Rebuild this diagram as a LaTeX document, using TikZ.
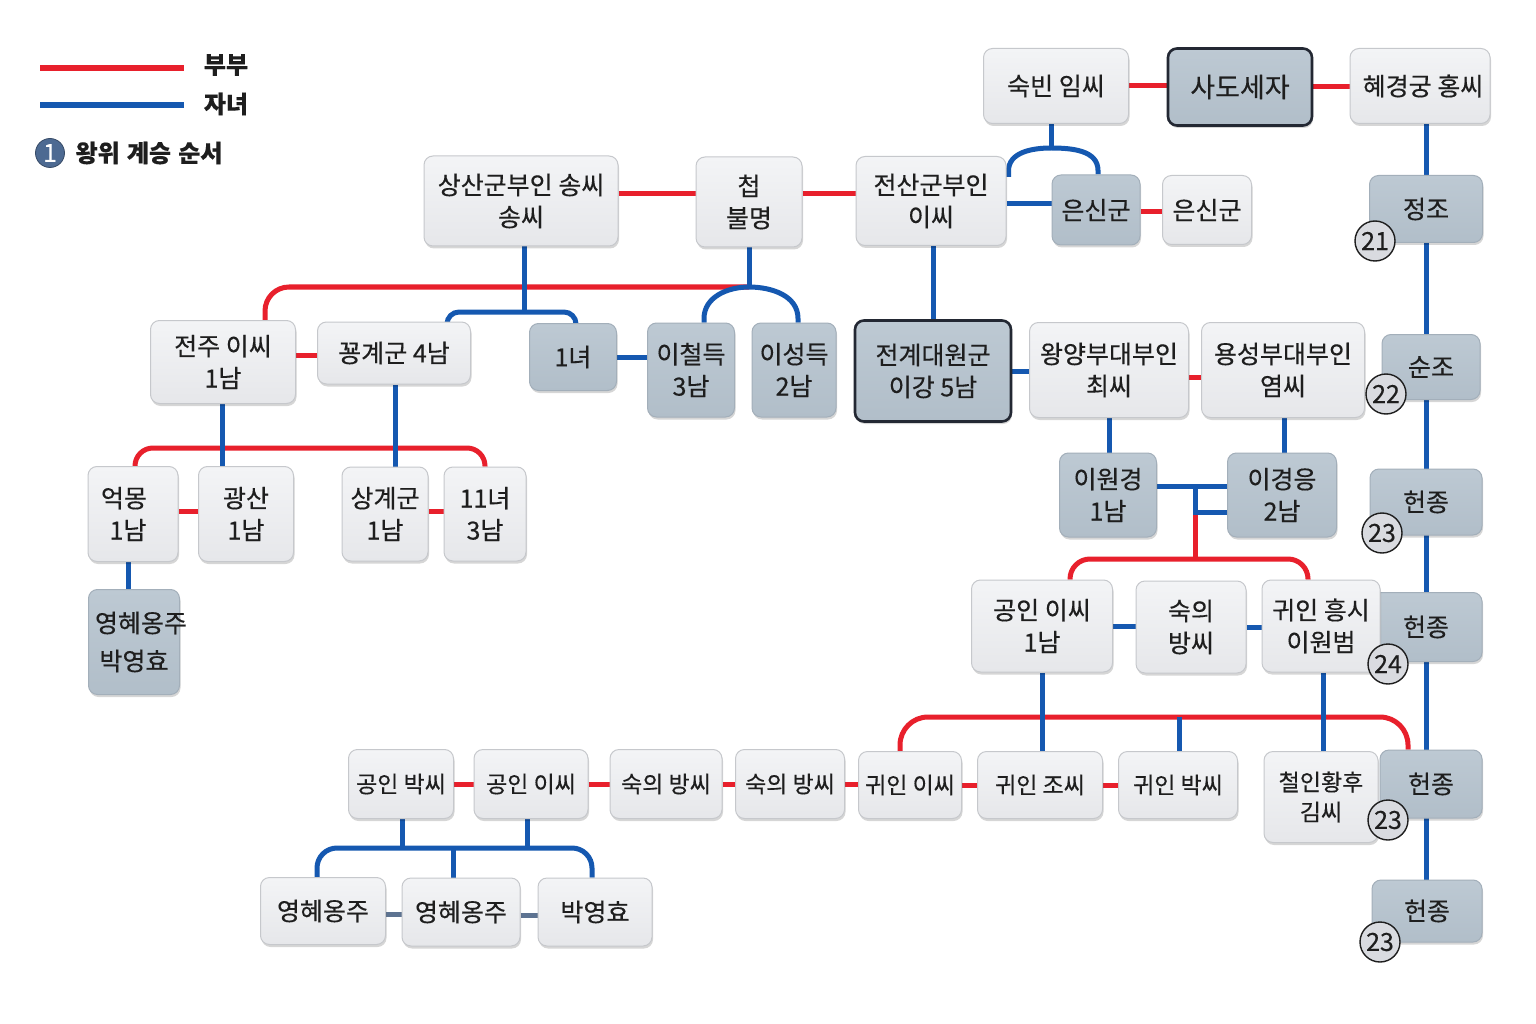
\documentclass[tikz,border=0pt]{standalone}
\usepackage{fontspec}
\setmainfont{Noto Sans CJK KR}[FakeBold=0.35]
\usetikzlibrary{shadows,calc}
\pgfdeclarelayer{bg}
\pgfsetlayers{bg,main}
\definecolor{kred}{HTML}{E8202C}
\definecolor{kblue}{HTML}{1558B0}
\definecolor{kslate}{HTML}{5D7391}
\definecolor{ink}{HTML}{1E1E1E}
\definecolor{ltop}{HTML}{F3F4F6}
\definecolor{lbot}{HTML}{E6E7EA}
\definecolor{lborder}{HTML}{C6C8CC}
\definecolor{dtop}{HTML}{BDC9D3}
\definecolor{dbot}{HTML}{B1BEC9}
\definecolor{dborder}{HTML}{A3AFBA}
\definecolor{hlborder}{HTML}{232833}
\definecolor{badgefill}{HTML}{D9DBE0}
\definecolor{legcirc}{HTML}{4D6A92}
\newcommand{\kfs}{\fontsize{25}{32}\selectfont}
\newcommand{\kfss}{\fontsize{23}{30}\selectfont}
\tikzset{
  boxbase/.style={rounded corners=9pt, align=center, inner sep=0pt, font=\kfs, text=ink, line width=1pt,
    drop shadow={shadow xshift=1pt, shadow yshift=-2.5pt, opacity=0.16, fill=black}},
  boxL/.style={boxbase, draw=lborder, top color=ltop, bottom color=lbot},
  boxD/.style={boxbase, draw=dborder, top color=dtop, bottom color=dbot},
  boxH/.style={line width=2.6pt, draw=hlborder},
  wh/.style 2 args={minimum width=#1pt, minimum height=#2pt},
  redl/.style={draw=kred, line width=5pt},
  bluel/.style={draw=kblue, line width=5pt},
  slatel/.style={draw=kslate, line width=5pt},
  legtext/.style={font=\fontsize{24}{30}\selectfont\bfseries, text=ink},
  badge/.style={circle, draw=ink, line width=1.4pt, fill=badgefill, minimum size=40pt, inner sep=0pt, font=\kfs, text=ink}
}
\begin{document}
\begin{tikzpicture}[x=1pt,y=-1pt]
\useasboundingbox (0,0) rectangle (1536,1024);
\begin{pgfonlayer}{bg}
\fill[white] (0,0) rectangle (1536,1024);
\end{pgfonlayer}

% legend
\draw[draw=kred, line width=6pt] (40,68) -- (184,68);
\draw[draw=kblue, line width=6pt] (40,105) -- (184,105);
\node[legtext] (legA) at (226,65) {부부};
\node[legtext] (legB) at (226,104) {자녀};
\node[circle, fill=legcirc, draw=legcirc!70!black, line width=0.8pt, minimum size=29pt, inner sep=0pt, text=white, font=\kfs] (legC) at (50,153) {1};
\node[legtext, anchor=west] (legD) at (72,153) {왕위\hspace{0.3em}계승\hspace{0.3em}순서};

% top row
\node[boxL, wh={145}{75}] (sukbin) at (1056,86) {숙빈 임씨};
\node[boxD, boxH, wh={144}{77}, font=\fontsize{27}{32}\selectfont] (sado) at (1240,87) {사도세자};
\node[boxL, wh={140}{75}] (hyeg) at (1420,86) {\hspace{6pt}혜경궁 홍씨};

\node[boxL, wh={194}{90}] (sangsan) at (521,201) {상산군부인 송씨\\송씨};
\node[boxL, wh={106}{90}] (cheop) at (749,202) {첩\\불명};
\node[boxL, wh={150}{89}] (jeonsan) at (931,201) {전산군부인\\이씨};
\node[boxD, wh={88}{70}] (eunsin1) at (1096,210) {은신군};
\node[boxL, wh={89}{69}] (eunsin2) at (1207,210) {은신군};

% right spine
\node[boxD, wh={113}{67}] (jeongjo) at (1426,209) {정조};
\node[boxD, wh={98}{65}] (sunjo) at (1431,367) {순조};
\node[boxD, wh={112}{66}] (heon1) at (1426,502) {헌종};
\node[boxD, wh={112}{69}] (heon2) at (1426,627) {헌종};
\node[boxD, wh={102}{68}] (heon3) at (1431,784) {헌종};
\node[boxD, wh={110}{62}] (heon4) at (1427,911) {헌종};

% second row
\node[boxL, wh={145}{83}] (jeonju) at (223,362) {전주 이씨\\1남};
\node[boxL, wh={153}{62}] (kkwang) at (394,353) {꾱계군 4남};
\node[boxD, wh={87}{67}] (ilnyeo) at (573,357) {1녀};
\node[boxD, wh={87}{94}] (icheol) at (691,370) {이철득\\3남};
\node[boxD, wh={84}{94}] (iseong) at (794,370) {이성득\\2남};
\node[boxD, boxH, wh={156}{101}] (jeongye) at (933,371) {전계대원군\\이강 5남};
\node[boxL, wh={159}{95}] (wangyang) at (1109,370) {왕양부대부인\\최씨};
\node[boxL, wh={163}{95}] (yongseong) at (1283,370) {용성부대부인\\염씨};

% third row left
\node[boxL, wh={90}{95}] (eokmong) at (133,514) {\makebox[0pt]{억몽\hspace{18pt}}\\\makebox[0pt]{1남\hspace{10pt}}};
\node[boxL, wh={95}{95}] (gwangsan) at (246,514) {광산\\1남};
\node[boxL, wh={86}{94}] (sanggye) at (385,514) {상계군\\1남};
\node[boxL, wh={82}{94}] (sib) at (485,514) {11녀\\3남};
\node[boxD, wh={91}{105}] (yeonghye0) at (134,642) {\makebox[0pt]{\hspace{14pt}영혜옹주}\\[6pt]\makebox[0pt]{박영효}};

% right middle
\node[boxD, wh={97}{84}] (iwon) at (1108,495) {이원경\\1남};
\node[boxD, wh={109}{84}] (igyeong) at (1282,495) {이경응\\2남};
\node[boxL, wh={141}{92}] (gongin1) at (1042,626) {공인 이씨\\1남};
\node[boxL, wh={110}{92}] (sukui1) at (1191,627) {숙의\\방씨};
\node[boxL, wh={118}{92}] (gwiinheung) at (1321,626) {귀인 흥시\\이원범};

% fifth row
\node[boxL, wh={105}{69}, font=\kfss] (gbak) at (401,784) {공인 박씨};
\node[boxL, wh={114}{69}, font=\kfss] (gi) at (531,784) {공인 이씨};
\node[boxL, wh={112}{69}, font=\kfss] (sukA) at (666,784) {숙의 방씨};
\node[boxL, wh={109}{69}, font=\kfss] (sukB) at (790,784) {숙의 방씨};
\node[boxL, wh={103}{67}, font=\kfss] (gwii) at (910,785) {귀인 이씨};
\node[boxL, wh={125}{67}, font=\kfss] (gwijo) at (1040,785) {귀인 조씨};
\node[boxL, wh={119}{67}, font=\kfss] (gwibak) at (1178,785) {귀인 박씨};
\node[boxL, wh={114}{91}, font=\kfss] (cheolin) at (1321,797) {철인황후\\김씨};

% sixth row
\node[boxL, wh={125}{67}] (yh1) at (323,911) {영혜옹주};
\node[boxL, wh={118}{68}] (yh2) at (461,912) {영혜옹주};
\node[boxL, wh={114}{68}] (bakyh) at (595,912) {박영효};

% badges
\node[badge] (b21) at (1375,241) {21};
\node[badge] (b22) at (1386,394) {22};
\node[badge] (b23a) at (1382,533) {23};
\node[badge] (b24) at (1388,664) {24};
\node[badge] (b23b) at (1388,820) {23};
\node[badge] (b23c) at (1380,942) {23};

% junctions
\coordinate (j1) at (1051,148);
\coordinate (j2) at (524,312);
\coordinate (j3) at (749,287);
\coordinate (j4) at (300,448);
\coordinate (j5) at (1195,486);
\coordinate (j6) at (1195,512);
\coordinate (j7) at (1195,559);
\coordinate (j8) at (453,848);
\coordinate (j9) at (1179,717);

\begin{pgfonlayer}{bg}
% spouses (red)
\draw[redl] (sukbin.east) -- (sukbin.east -| sado.west);
\draw[redl] (sado.east) -- (sado.east -| hyeg.west);
\draw[redl] ([yshift=7pt]sangsan.east) -- ([yshift=7pt]sangsan.east -| cheop.west);
\draw[redl] ([yshift=8pt]cheop.east) -- ([yshift=8pt]cheop.east -| jeonsan.west);
\draw[redl] ([yshift=-2pt]eunsin1.east) -- ([yshift=-2pt]eunsin1.east -| eunsin2.west);
\draw[redl] ([yshift=7pt]jeonju.east) -- ([yshift=-2pt]kkwang.west);
\draw[redl, rounded corners=24pt] ([xshift=-31pt]jeonju.north east) |- (j3);
\draw[redl, rounded corners=18pt] ([xshift=2pt]eokmong.north) |- (j4) -| (sib.north);
\draw[redl] ([yshift=3pt]eokmong.east) -- ([yshift=3pt]eokmong.east -| gwangsan.west);
\draw[redl] ([yshift=3pt]sanggye.east) -- ([yshift=3pt]sanggye.east -| sib.west);
\draw[redl] ([yshift=-7pt]wangyang.east) -- ([yshift=-7pt]wangyang.east -| yongseong.west);
\draw[redl] (j6) -- (j7);
\draw[redl, rounded corners=20pt] ([xshift=28pt]gongin1.north) |- (j7) -| ([xshift=-13pt]gwiinheung.north);
\draw[redl, rounded corners=28pt] ([xshift=-10pt]gwii.north) |- (j9) -| ([xshift=-23pt]heon3.north);
\draw[redl] (gbak.east) -- (gbak.east -| gi.west);
\draw[redl] (gi.east) -- (gi.east -| sukA.west);
\draw[redl] (sukA.east) -- (sukA.east -| sukB.west);
\draw[redl] (sukB.east) -- (sukB.east -| gwii.west);
\draw[redl] (gwii.east) -- (gwii.east -| gwijo.west);
\draw[redl] (gwijo.east) -- (gwijo.east -| gwibak.west);

% children (blue)
\draw[bluel] ([xshift=6pt]hyeg.south) -- ([xshift=6pt]hyeg.south |- heon4.north);
\draw[bluel] ([xshift=2pt]jeonsan.south) -- ([xshift=2pt]jeonsan.south |- jeongye.north);
\draw[bluel] ([yshift=-3pt]jeonsan.east) -- ([yshift=-3pt]jeonsan.east -| eunsin1.west);
\draw[bluel] ([xshift=-5pt]sukbin.south) -- (j1);
\draw[bluel] ([xshift=2pt,yshift=24pt]jeonsan.east) -- ++(0,-6) to[out=90,in=180] (j1) to[out=0,in=90] ([xshift=2pt,yshift=4pt]eunsin1.north) -- ([xshift=2pt]eunsin1.north);
\draw[bluel] ([xshift=3pt]sangsan.south) -- (j2);
\draw[bluel, rounded corners=12pt] ([xshift=-24pt]kkwang.north east) |- (j2) -| ([xshift=3pt]ilnyeo.north);
\draw[bluel] (cheop.south) -- (j3);
\draw[bluel] ([xshift=13pt]icheol.north) -- ++(0,-4) to[out=90,in=180] (j3) to[out=0,in=90] ([xshift=4pt,yshift=4pt]iseong.north) -- ([xshift=4pt]iseong.north);
\draw[bluel] (ilnyeo.east) -- (ilnyeo.east -| icheol.west);
\draw[bluel] ([xshift=-1pt]jeonju.south) -- ([xshift=-1pt]jeonju.south |- gwangsan.north);
\draw[bluel] ([xshift=1pt]kkwang.south) -- ([xshift=1pt]kkwang.south |- sanggye.north);
\draw[bluel] ([xshift=-5pt]eokmong.south) -- ([xshift=-5pt]eokmong.south |- yeonghye0.north);
\draw[bluel] (jeongye.east) -- (jeongye.east -| wangyang.west);
\draw[bluel] (wangyang.south) -- (wangyang.south |- iwon.north);
\draw[bluel] ([xshift=1pt]yongseong.south) -- ([xshift=1pt]yongseong.south |- igyeong.north);
\draw[bluel] ([yshift=9pt]iwon.east) -- ([yshift=9pt]iwon.east -| igyeong.west);
\draw[bluel] (j5) |- ([yshift=-17pt]igyeong.west);
\draw[bluel] (gongin1.east) -- (gongin1.east -| sukui1.west);
\draw[bluel] (sukui1.east) -- (sukui1.east -| gwiinheung.west);
\draw[bluel] (gongin1.south) -- (gongin1.south |- gwijo.north);
\draw[bluel] ([xshift=2pt]gwiinheung.south) -- ([xshift=2pt]gwiinheung.south |- cheolin.north);
\draw[bluel] (j9) -- (j9 |- gwibak.north);
\draw[bluel] ([xshift=1pt]gbak.south) -- ([xshift=1pt]gbak.south |- j8);
\draw[bluel] ([xshift=-4pt]gi.south) -- ([xshift=-4pt]gi.south |- j8);
\draw[bluel, rounded corners=20pt] ([xshift=-6pt]yh1.north) |- (j8) -| ([xshift=-3pt]bakyh.north);
\draw[bluel] (j8) -- (j8 |- yh2.north);
\draw[slatel] ([yshift=-3pt]yh1.east) -- ([yshift=-3pt]yh1.east -| yh2.west);
\draw[slatel] ([yshift=-3pt]yh2.east) -- ([yshift=-3pt]yh2.east -| bakyh.west);
\end{pgfonlayer}
\end{tikzpicture}
\end{document}
